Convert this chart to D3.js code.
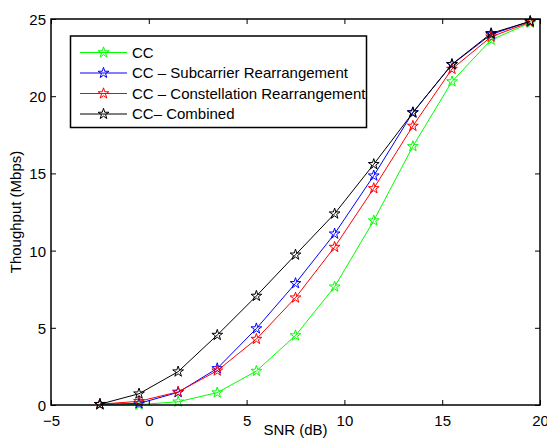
<!DOCTYPE html>
<html>
<head>
<meta charset="utf-8">
<script src="https://cdn.jsdelivr.net/npm/d3@7"></script>
<style>
  html, body { margin: 0; padding: 0; background: #fff; }
  text { font-family: "Liberation Sans", Arial, Helvetica, sans-serif; }
</style>
</head>
<body>
<svg id="chart" width="547" height="444"></svg>
<script>
const snr = [-2.5, -0.5, 1.5, 3.5, 5.5, 7.5, 9.5, 11.5, 13.5, 15.5, 17.5, 19.5];
const ccValues       = [0.02, 0.02, 0.21, 0.8, 2.2, 4.5, 7.66, 11.94, 16.75, 20.95, 23.65, 24.75];
const subcarrierVals = [0.05, 0.1, 0.82, 2.37, 4.95, 7.88, 11.09, 14.85, 18.95, 22.05, 24.0, 24.85];
const constellVals   = [0.05, 0.24, 0.85, 2.22, 4.27, 6.95, 10.23, 14.03, 18.07, 21.76, 23.85, 24.8];
const combinedVals   = [0.05, 0.73, 2.16, 4.53, 7.06, 9.73, 12.39, 15.59, 18.93, 22.07, 24.07, 24.85];
const seriesNames = ["CC", "CC \u2013 Subcarrier Rearrangement", "CC \u2013 Constellation Rearrangement", "CC\u2013  Combined"];
const seriesColors = ["#00ff00", "#0000ff", "#ff0000", "#000000"];
const xTicks = [-5, 0, 5, 10, 15, 20];
const yTicks = [0, 5, 10, 15, 20, 25];

const seriesData = [ccValues, subcarrierVals, constellVals, combinedVals];

const svg = d3.select("#chart");
const mLeft = 51, mRight = 540, mTop = 19, mBottom = 405;
const x = d3.scaleLinear().domain([-5, 20]).range([mLeft, mRight]);
const y = d3.scaleLinear().domain([0, 25]).range([mBottom, mTop]);

const star = d3.symbol().type(d3.symbolStar).size(36);

// series
seriesData.forEach((vals, i) => {
  const pts = snr.map((s, j) => [s, vals[j]]);
  const g = svg.append("g");
  g.append("path")
    .datum(pts)
    .attr("fill", "none")
    .attr("stroke", seriesColors[i])
    .attr("stroke-width", 1)
    .attr("d", d3.line().x(d => x(d[0])).y(d => y(d[1])));
  g.selectAll("path.m").data(pts).enter().append("path")
    .attr("class", "m")
    .attr("d", star)
    .attr("transform", d => `translate(${x(d[0])},${y(d[1])})`)
    .attr("fill", "none")
    .attr("stroke", seriesColors[i])
    .attr("stroke-width", 1);
});

// axes with inward ticks
const tickLen = 5;
const fontSize = 15;
const axB = svg.append("g").attr("transform", `translate(0,${mBottom})`)
  .call(d3.axisBottom(x).tickValues(xTicks).tickSizeInner(-tickLen).tickSizeOuter(0).tickPadding(10).tickFormat(d => d < 0 ? "\u2212" + Math.abs(d) : d));
const axT = svg.append("g").attr("transform", `translate(0,${mTop})`)
  .call(d3.axisTop(x).tickValues(xTicks).tickSizeInner(-tickLen).tickSizeOuter(0).tickFormat(""));
const axL = svg.append("g").attr("transform", `translate(${mLeft},0)`)
  .call(d3.axisLeft(y).tickValues(yTicks).tickSizeInner(-tickLen).tickSizeOuter(0).tickPadding(5));
const axR = svg.append("g").attr("transform", `translate(${mRight},0)`)
  .call(d3.axisRight(y).tickValues(yTicks).tickSizeInner(-tickLen).tickSizeOuter(0).tickFormat(""));
[axB, axT, axL, axR].forEach(a => {
  a.select(".domain").remove();
  a.selectAll(".tick line").attr("stroke", "#000").attr("stroke-width", 1);
  a.selectAll("text").attr("font-size", fontSize).attr("fill", "#000")
    .style("font-family", '"Liberation Sans", Arial, sans-serif');
});
axL.selectAll(".tick text").attr("dy", "0.36em");
axB.selectAll(".tick text").attr("dy", "0.71em");

svg.append("rect")
  .attr("x", mLeft).attr("y", mTop)
  .attr("width", mRight - mLeft).attr("height", mBottom - mTop)
  .attr("fill", "none").attr("stroke", "#000").attr("stroke-width", 1.5);

// axis labels
svg.append("text").attr("x", (mLeft + mRight) / 2).attr("y", 435)
  .attr("text-anchor", "middle").attr("font-size", fontSize).text("SNR (dB)");
svg.append("text").attr("transform", `translate(21,${(mTop + mBottom) / 2}) rotate(-90)`)
  .attr("text-anchor", "middle").attr("font-size", fontSize).text("Thoughput (Mbps)");

// legend
const lg = svg.append("g");
lg.append("rect").attr("x", 70.5).attr("y", 36).attr("width", 296).attr("height", 91.5)
  .attr("fill", "#fff").attr("stroke", "#000").attr("stroke-width", 1.5);
const rowY = [52.5, 73, 93.5, 114];
seriesNames.forEach((name, i) => {
  const ry = rowY[i];
  lg.append("line").attr("x1", 80).attr("x2", 127).attr("y1", ry).attr("y2", ry)
    .attr("stroke", seriesColors[i]).attr("stroke-width", 1);
  lg.append("path").attr("d", star).attr("transform", `translate(103.5,${ry})`)
    .attr("fill", "none").attr("stroke", seriesColors[i]).attr("stroke-width", 1);
  lg.append("text").attr("x", 132).attr("y", ry).attr("dy", "0.36em")
    .attr("font-size", fontSize).text(name);
});
</script>
</body>
</html>
